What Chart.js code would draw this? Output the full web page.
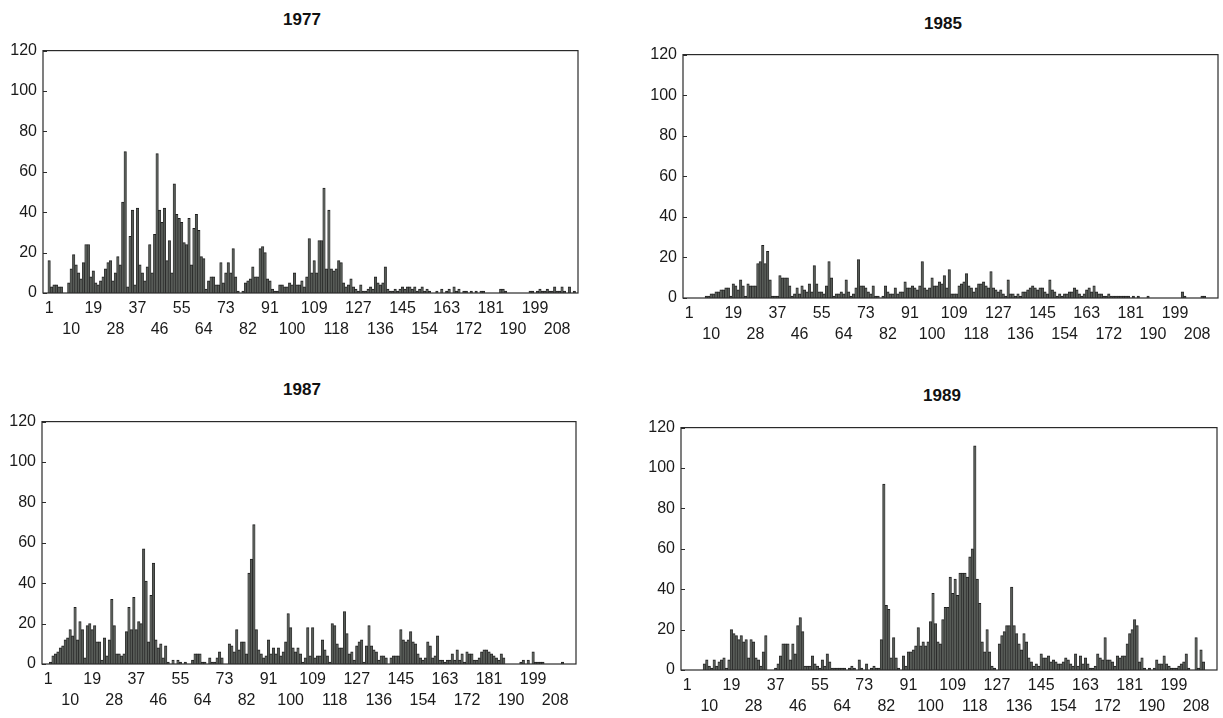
<!DOCTYPE html>
<html>
<head>
<meta charset="utf-8">
<script src="https://cdn.jsdelivr.net/npm/chart.js@4.4.0/dist/chart.umd.min.js"></script>
<style>
  html, body { margin: 0; padding: 0; background: #fff; }
  body { width: 1223px; height: 718px; position: relative; overflow: hidden; }
  canvas { position: absolute; }
  .panel-title {
    position: absolute;
    transform: translate(-50%, -50%);
    font: bold 17px 'Liberation Sans', Arial, Helvetica, sans-serif;
    color: #111;
    white-space: nowrap;
  }
</style>
</head>
<body>
<canvas id="c1977"></canvas>
<canvas id="c1985"></canvas>
<canvas id="c1987"></canvas>
<canvas id="c1989"></canvas>
<script>
// Day numbers on the x axis; the axis runs a little past the data at both ends
const firstDay = -1;
const lastDay = 216;
const days = [];
for (let d = firstDay; d <= lastDay; d++) days.push(d);

// Labelled days: top row 1, 19, 37 ... and bottom row 10, 28, 46 ...
const topRowDays = [1, 19, 37, 55, 73, 91, 109, 127, 145, 163, 181, 199];
const bottomRowDays = [10, 28, 46, 64, 82, 100, 118, 136, 154, 172, 190, 208];

const yTicks = { min: 0, max: 120, step: 10, labelEvery: 20 };

// Counts for days 1..216 (18 per line)
const counts1977 = [
  16, 3, 4, 4, 3, 3, 0, 0, 5, 12, 19, 14, 10, 7, 15, 24, 24, 8,
  11, 5, 4, 6, 8, 12, 15, 16, 6, 10, 18, 14, 45, 70, 3, 28, 41, 4,
  42, 14, 10, 6, 13, 24, 10, 29, 69, 41, 35, 42, 16, 26, 10, 54, 39, 37,
  35, 25, 24, 37, 14, 32, 39, 31, 18, 17, 2, 6, 8, 8, 4, 4, 15, 5,
  10, 15, 10, 22, 8, 1, 0, 1, 5, 6, 7, 13, 8, 8, 22, 23, 20, 7,
  6, 2, 1, 1, 4, 4, 3, 3, 5, 4, 10, 4, 4, 6, 3, 8, 27, 10,
  16, 10, 26, 26, 52, 12, 41, 12, 11, 12, 16, 15, 5, 3, 4, 7, 3, 2,
  1, 4, 1, 1, 2, 3, 2, 8, 5, 4, 5, 13, 2, 1, 1, 2, 1, 2,
  3, 2, 3, 3, 2, 3, 1, 2, 3, 1, 2, 1, 0, 0, 1, 0, 2, 0,
  1, 2, 0, 3, 1, 2, 0, 1, 1, 0, 1, 0, 1, 0, 1, 1, 0, 0,
  0, 0, 0, 0, 2, 2, 1, 0, 0, 0, 0, 0, 0, 0, 0, 0, 1, 1,
  0, 1, 2, 1, 1, 2, 1, 1, 3, 1, 1, 3, 1, 0, 3, 0, 1, 0,
];

const counts1985 = [
  0, 0, 0, 0, 0, 0, 0, 1, 1, 2, 2, 3, 3, 4, 4, 5, 5, 1,
  7, 6, 4, 9, 6, 1, 7, 6, 6, 6, 17, 18, 26, 17, 23, 9, 1, 1,
  1, 11, 10, 10, 10, 6, 1, 2, 5, 2, 6, 4, 3, 7, 3, 16, 7, 3,
  3, 2, 6, 18, 10, 1, 2, 2, 3, 2, 9, 3, 1, 2, 5, 19, 6, 6,
  5, 3, 2, 6, 1, 1, 0, 1, 6, 3, 2, 2, 5, 2, 3, 3, 8, 5,
  5, 6, 5, 4, 6, 18, 5, 4, 5, 10, 6, 6, 8, 7, 11, 5, 14, 2,
  2, 2, 6, 7, 8, 12, 6, 5, 3, 5, 7, 7, 8, 6, 5, 13, 5, 4,
  3, 4, 2, 1, 9, 2, 2, 1, 2, 1, 3, 3, 4, 5, 6, 5, 4, 5,
  5, 3, 2, 9, 4, 3, 1, 2, 1, 2, 2, 3, 3, 5, 4, 2, 1, 2,
  4, 5, 3, 6, 3, 2, 2, 1, 1, 2, 1, 1, 1, 1, 1, 1, 1, 1,
  0, 1, 0, 1, 0, 0, 0, 1, 0, 0, 0, 0, 0, 0, 0, 0, 0, 0,
  0, 0, 0, 3, 1, 0, 0, 0, 0, 0, 0, 1, 1, 0, 0, 0, 0, 0,
];

const counts1987 = [
  0, 1, 4, 5, 6, 8, 9, 12, 13, 17, 14, 28, 12, 21, 17, 3, 19, 20,
  17, 19, 11, 11, 2, 13, 4, 12, 32, 19, 5, 5, 4, 5, 16, 28, 17, 33,
  17, 21, 20, 57, 41, 11, 34, 50, 12, 8, 10, 3, 9, 1, 0, 2, 0, 2,
  1, 0, 1, 0, 0, 2, 5, 5, 5, 1, 1, 0, 3, 1, 1, 3, 6, 3,
  0, 0, 10, 9, 6, 17, 7, 11, 11, 5, 45, 52, 69, 17, 7, 5, 3, 4,
  12, 5, 8, 5, 8, 4, 6, 11, 25, 18, 8, 6, 8, 5, 1, 3, 18, 4,
  18, 3, 4, 4, 12, 7, 4, 1, 20, 19, 10, 8, 8, 26, 15, 5, 6, 2,
  9, 11, 12, 1, 9, 19, 9, 7, 6, 2, 4, 4, 3, 0, 3, 4, 4, 4,
  17, 12, 11, 12, 16, 11, 10, 5, 3, 2, 3, 11, 9, 3, 4, 14, 2, 2,
  1, 2, 2, 5, 2, 7, 2, 5, 1, 6, 5, 5, 2, 2, 3, 6, 7, 7,
  6, 5, 4, 3, 2, 5, 3, 0, 0, 0, 0, 0, 0, 1, 2, 0, 2, 0,
  6, 1, 1, 1, 1, 0, 0, 0, 0, 0, 0, 0, 1, 0, 0, 0, 0, 0,
];

const counts1989 = [
  0, 0, 0, 0, 0, 0, 0, 3, 5, 2, 1, 5, 2, 4, 5, 6, 1, 5,
  20, 18, 17, 15, 17, 14, 15, 6, 15, 14, 6, 5, 2, 9, 17, 0, 0, 0,
  1, 3, 7, 13, 13, 13, 5, 13, 8, 22, 26, 19, 2, 2, 2, 7, 3, 2,
  1, 5, 2, 8, 4, 1, 1, 1, 1, 1, 1, 0, 1, 2, 1, 0, 5, 1,
  0, 3, 0, 1, 2, 1, 1, 15, 92, 32, 30, 6, 16, 6, 1, 0, 7, 2,
  9, 9, 10, 12, 21, 12, 14, 12, 14, 24, 38, 23, 14, 13, 25, 31, 31, 46,
  38, 45, 37, 48, 48, 48, 46, 56, 60, 111, 45, 33, 14, 9, 20, 9, 2, 1,
  0, 13, 17, 19, 22, 22, 41, 22, 18, 13, 10, 18, 14, 6, 4, 2, 3, 2,
  8, 6, 6, 7, 4, 5, 4, 3, 3, 4, 6, 5, 3, 2, 8, 2, 7, 3,
  6, 3, 1, 1, 2, 8, 6, 5, 16, 5, 5, 4, 2, 7, 6, 7, 7, 13,
  18, 20, 25, 22, 4, 6, 1, 0, 1, 0, 1, 5, 3, 3, 7, 3, 2, 1,
  1, 1, 2, 3, 4, 8, 1, 0, 0, 16, 1, 10, 4, 0, 0, 0, 0, 0,
];

// Page placement of each panel: plot box [left, top, right, bottom] and title centre
const panels = [
  { id: 'c1977', title: '1977', values: counts1977, plot: [43, 45, 578, 293], titleAt: [302, 20] },
  { id: 'c1985', title: '1985', values: counts1985, plot: [683, 49, 1218, 298], titleAt: [943, 24] },
  { id: 'c1987', title: '1987', values: counts1987, plot: [42, 416, 576, 664], titleAt: [302, 390] },
  { id: 'c1989', title: '1989', values: counts1989, plot: [681, 422, 1217, 670], titleAt: [942, 396] },
];

const FONT = "'Liberation Sans', Arial, Helvetica, sans-serif";
const Y_AXIS_W = 43;
const X_AXIS_H = 46;

// Box round the plot and small inward ticks on the left edge
const framePlugin = {
  id: 'frame',
  afterDatasetsDraw(chart) {
    const { ctx, chartArea: a, scales: { y } } = chart;
    ctx.save();
    ctx.strokeStyle = '#2a2a2a';
    ctx.lineWidth = 1.2;
    ctx.strokeRect(a.left, a.top, a.right - a.left, a.bottom - a.top);
    ctx.lineWidth = 1;
    y.ticks.forEach(t => {
      const py = Math.round(y.getPixelForValue(t.value)) + 0.5;
      ctx.beginPath();
      ctx.moveTo(a.left, py);
      ctx.lineTo(a.left + 4, py);
      ctx.stroke();
    });
    ctx.restore();
  },
};

function xLabel(day) {
  if (topRowDays.includes(day)) return String(day);
  if (bottomRowDays.includes(day)) return ['', String(day)];
  return '';
}

function makePanel(p) {
  const [L, T, R, B] = p.plot;
  const left = L - Y_AXIS_W;
  const top = T - 10;
  const padR = 10;
  const width = R - left + padR;
  const height = B - top + X_AXIS_H + 4;

  const el = document.getElementById(p.id);
  el.width = width;
  el.height = height;
  el.style.left = left + 'px';
  el.style.top = top + 'px';

  const title = document.createElement('div');
  title.className = 'panel-title';
  title.textContent = p.title;
  title.style.left = p.titleAt[0] + 'px';
  title.style.top = p.titleAt[1] + 'px';
  document.body.appendChild(title);

  new Chart(el, {
    type: 'bar',
    data: {
      labels: days,
      datasets: [{
        data: [null, null, ...p.values],
        backgroundColor: '#575b57',
        borderColor: '#1e1e1e',
        borderWidth: { left: 0.6, right: 0.6, top: 1, bottom: 0 },
        borderSkipped: 'start',
        categoryPercentage: 1,
        barPercentage: 1,
      }],
    },
    options: {
      responsive: false,
      animation: false,
      devicePixelRatio: 1,
      layout: { padding: { left: 0, right: padR, top: T - top, bottom: height - (B - top) - X_AXIS_H } },
      plugins: {
        legend: { display: false },
        tooltip: { enabled: false },
        title: { display: false },
      },
      scales: {
        x: {
          grid: { display: false, drawTicks: false },
          border: { display: false },
          afterFit: (s) => { s.height = X_AXIS_H; },
          ticks: {
            autoSkip: false,
            maxRotation: 0,
            minRotation: 0,
            padding: 5,
            color: '#1a1a1a',
            font: { family: FONT, size: 16, lineHeight: 1.3 },
            callback: function (value) { return xLabel(this.getLabelForValue(value)); },
          },
        },
        y: {
          min: yTicks.min,
          max: yTicks.max,
          grid: { display: false, drawTicks: false },
          border: { display: false },
          afterFit: (s) => { s.width = Y_AXIS_W; },
          ticks: {
            stepSize: yTicks.step,
            padding: 6,
            color: '#1a1a1a',
            font: { family: FONT, size: 16 },
            callback: (v) => (v % yTicks.labelEvery === 0 ? v : ''),
          },
        },
      },
    },
    plugins: [framePlugin],
  });
}

panels.forEach(makePanel);
</script>
</body>
</html>
